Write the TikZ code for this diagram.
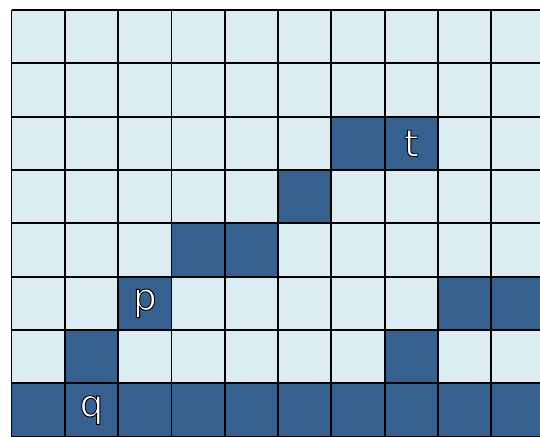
\documentclass[tikz,border=0pt]{standalone}
\usepackage{fontspec}
\setmainfont{DejaVu Sans}
\usepackage{xcolor}
\definecolor{cellLight}{RGB}{219,237,243}
\definecolor{cellDark}{RGB}{53,96,143}
% white letters with a thin black outline
\newcommand{\outlined}[1]{{\color{white}\special{pdf:literal direct 0 0 0 RG 0.5 w 2 Tr}#1\special{pdf:literal direct 0 Tr}}}

\begin{document}
\begin{tikzpicture}[
    x=1cm, y=1cm,
    lightcell/.style={fill=cellLight},
    darkcell/.style={fill=cellDark},
    gridline/.style={draw=black, line width=1pt},
    celltext/.style={font=\fontsize{20}{22}\selectfont, inner sep=0pt}
]
    % Frame (the grid runs off the right and bottom edges)
    \useasboundingbox (-0.216,0.19) rectangle (9.914,-7.99);
    \clip (-0.216,0.19) rectangle (9.914,-7.99);

    % Cells
    \fill[lightcell] (0,0) rectangle (10,-8);
    \foreach \c/\r in {6/2, 7/2, 5/3, 3/4, 4/4, 2/5, 8/5, 9/5, 1/6, 7/6}
        \fill[darkcell] (\c,-\r) rectangle ++(1,-1);
    \foreach \c in {0,...,9}
        \fill[darkcell] (\c,-7) rectangle ++(1,-1);
    \draw[gridline] (0,-8) grid (10,0);

    % Nodes
    \node (t) [celltext] at (7.5,-2.5) {\outlined{t}};
    \node (p) [celltext] at (2.5,-5.5) {\outlined{p}};
    \node (q) [celltext] at (1.5,-7.5) {\outlined{q}};
\end{tikzpicture}
\end{document}
